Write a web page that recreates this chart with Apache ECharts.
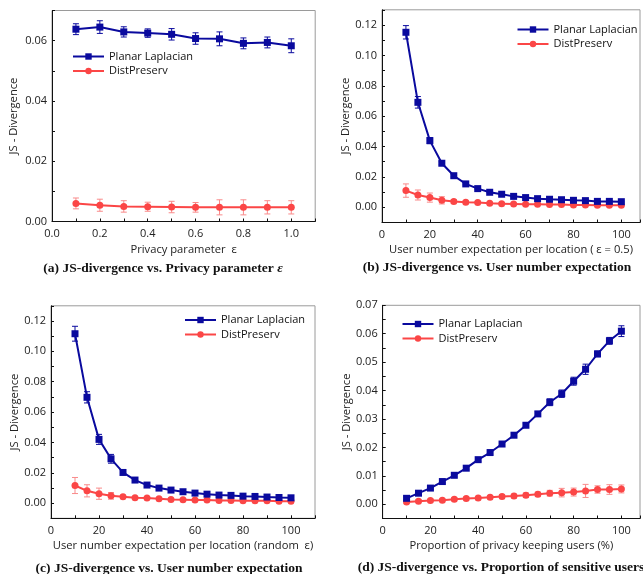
<!DOCTYPE html>
<html>
<head>
<meta charset="utf-8">
<script src="https://cdn.jsdelivr.net/npm/echarts@6/dist/echarts.min.js"></script>
<style>html,body{margin:0;padding:0;background:#fff}#c{width:643px;height:574px}</style>
</head>
<body>
<div id="c"></div>
<script>
// ---- data ----
const A_EPS = [0.1, 0.2, 0.3, 0.4, 0.5, 0.6, 0.7, 0.8, 0.9, 1.0];
const A_PL = [0.0638, 0.0645, 0.0629, 0.0625, 0.0621, 0.0607, 0.0606, 0.0591, 0.0594, 0.0583];
const A_PL_ERR = [0.0018, 0.0021, 0.0017, 0.0014, 0.0019, 0.0019, 0.0023, 0.0018, 0.0018, 0.0023];
const A_DP = [0.0060, 0.0054, 0.0050, 0.0049, 0.0048, 0.0047, 0.0047, 0.0047, 0.0047, 0.0047];
const A_DP_ERR = [0.0018, 0.0020, 0.0019, 0.0015, 0.0019, 0.0016, 0.0025, 0.0025, 0.0022, 0.0022];

const USERS = [10, 15, 20, 25, 30, 35, 40, 45, 50, 55, 60, 65, 70, 75, 80, 85, 90, 95, 100];
const B_PL = [0.1152, 0.0691, 0.0439, 0.0290, 0.0208, 0.0154, 0.0123, 0.0099, 0.0086, 0.0072, 0.0064, 0.0057, 0.0053, 0.0050, 0.0046, 0.0044, 0.0039, 0.0039, 0.0037];
const B_PL_ERR = [0.0044, 0.0038, 0.0020, 0.0010, 0.0008, 0.0006, 0.0005, 0.0004, 0.0004, 0.0004, 0.0004, 0.0004, 0.0004, 0.0004, 0.0004, 0.0004, 0.0004, 0.0004, 0.0004];
const B_DP = [0.0110, 0.0081, 0.0064, 0.0046, 0.0039, 0.0033, 0.0031, 0.0026, 0.0024, 0.0022, 0.0020, 0.0020, 0.0018, 0.0018, 0.0015, 0.0015, 0.0013, 0.0013, 0.0013];
const B_DP_ERR = [0.0044, 0.0033, 0.0030, 0.0024, 0.0012, 0.0010, 0.0008, 0.0006, 0.0005, 0.0005, 0.0005, 0.0005, 0.0005, 0.0005, 0.0005, 0.0005, 0.0005, 0.0005, 0.0005];

const C_PL = [0.1116, 0.0697, 0.0420, 0.0292, 0.0202, 0.0152, 0.0119, 0.0099, 0.0086, 0.0075, 0.0066, 0.0059, 0.0053, 0.0051, 0.0046, 0.0044, 0.0040, 0.0037, 0.0035];
const C_PL_ERR = [0.0049, 0.0037, 0.0033, 0.0029, 0.0010, 0.0008, 0.0006, 0.0005, 0.0005, 0.0005, 0.0005, 0.0005, 0.0005, 0.0005, 0.0005, 0.0005, 0.0005, 0.0005, 0.0005];
const C_DP = [0.0116, 0.0081, 0.0062, 0.0048, 0.0042, 0.0035, 0.0033, 0.0029, 0.0024, 0.0022, 0.0020, 0.0020, 0.0018, 0.0018, 0.0015, 0.0015, 0.0015, 0.0013, 0.0013];
const C_DP_ERR = [0.0053, 0.0040, 0.0037, 0.0022, 0.0010, 0.0008, 0.0006, 0.0006, 0.0006, 0.0006, 0.0006, 0.0006, 0.0006, 0.0006, 0.0006, 0.0006, 0.0006, 0.0006, 0.0006];

const PROPORTION = [10, 15, 20, 25, 30, 35, 40, 45, 50, 55, 60, 65, 70, 75, 80, 85, 90, 95, 100];
const D_PL = [0.0021, 0.0039, 0.0057, 0.0080, 0.0102, 0.0127, 0.0157, 0.0182, 0.0212, 0.0243, 0.0278, 0.0318, 0.0359, 0.0389, 0.0433, 0.0475, 0.0529, 0.0575, 0.0609];
const D_PL_ERR = [0.0005, 0.0005, 0.0005, 0.0005, 0.0006, 0.0006, 0.0006, 0.0006, 0.0007, 0.0007, 0.0007, 0.0008, 0.0012, 0.0013, 0.0014, 0.0018, 0.0010, 0.0012, 0.0019];
const D_DP = [0.0008, 0.0011, 0.0013, 0.0014, 0.0018, 0.0020, 0.0022, 0.0025, 0.0027, 0.0029, 0.0032, 0.0035, 0.0039, 0.0041, 0.0043, 0.0047, 0.0052, 0.0052, 0.0054];
const D_DP_ERR = [0.0005, 0.0005, 0.0005, 0.0005, 0.0006, 0.0006, 0.0006, 0.0006, 0.0007, 0.0007, 0.0008, 0.0008, 0.0010, 0.0015, 0.0014, 0.0023, 0.0013, 0.0017, 0.0014];

const SERIES_NAMES = ['Planar Laplacian', 'DistPreserv'];
const Y_NAME = 'JS - Divergence';
const X_NAMES = ['Privacy parameter  ε', 'User number expectation per location ( ε = 0.5)', 'User number expectation per location (random  ε)', 'Proportion of privacy keeping users (%)'];
const CAPTIONS = [
  ['(a) JS-divergence vs. Privacy parameter ', 'ε'],
  ['(b) JS-divergence vs. User number expectation', ''],
  ['(c) JS-divergence vs. User number expectation', ''],
  ['(d) JS-divergence vs. Proportion of sensitive users', '']
];

// ---- styles ----
const BLUE = '#0a0a9e';
const RED = '#fb4646';
const RED_ERR = '#f98a8a';
const FONT = 'Open Sans';

const panels = [
  { x: A_EPS, pl: A_PL, plE: A_PL_ERR, dp: A_DP, dpE: A_DP_ERR,
    grid: { left: 52, top: 10.5, width: 263.2, height: 211 },
    xa: { min: 0, max: 1.1, interval: 0.1, step: 0.2, dec: 1 },
    ya: { min: 0, max: 0.07, interval: 0.01, step: 0.02, dec: 2 },
    legend: { left: 72, top: 51 }, cap: { x: 163, y: 269 }, nameGapX: 23, nameGapY: 33 },
  { x: USERS, pl: B_PL, plE: B_PL_ERR, dp: B_DP, dpE: B_DP_ERR,
    grid: { left: 382, top: 9.8, width: 260, height: 212.7 },
    xa: { min: 0, max: 107.8, interval: 10, step: 20, dec: 0 },
    ya: { min: -0.01, max: 0.13, interval: 0.01, step: 0.02, dec: 2 },
    legend: { left: 516.5, top: 24 }, cap: { x: 497, y: 268 }, nameGapX: 22, nameGapY: 30 },
  { x: USERS, pl: C_PL, plE: C_PL_ERR, dp: C_DP, dpE: C_DP_ERR,
    grid: { left: 51, top: 305.8, width: 264, height: 212.5 },
    xa: { min: 0, max: 110, interval: 10, step: 20, dec: 0 },
    ya: { min: -0.01, max: 0.13, interval: 0.01, step: 0.02, dec: 2 },
    legend: { left: 184, top: 314.5 }, cap: { x: 169, y: 569 }, nameGapX: 22, nameGapY: 31 },
  { x: PROPORTION, pl: D_PL, plE: D_PL_ERR, dp: D_DP, dpE: D_DP_ERR,
    grid: { left: 382.7, top: 305.3, width: 259.3, height: 213.2 },
    xa: { min: 0, max: 107.8, interval: 10, step: 20, dec: 0 },
    ya: { min: -0.005, max: 0.07, interval: 0.005, step: 0.01, dec: 2 },
    legend: { left: 401.5, top: 318.5 }, cap: { x: 501, y: 568 }, nameGapX: 22, nameGapY: 30 }
];

function onStep(v, step) {
  const r = v / step;
  return Math.abs(r - Math.round(r)) < 1e-6;
}

const option = { animation: false, backgroundColor: '#fff', grid: [], xAxis: [], yAxis: [], series: [], legend: [], graphic: [] };

function errRender(color) {
  return function (params, api) {
    const x = api.value(0), lo = api.value(1), hi = api.value(2);
    const p1 = api.coord([x, lo]), p2 = api.coord([x, hi]);
    const w = 3;
    const st = { stroke: color, lineWidth: 1 };
    return { type: 'group', children: [
      { type: 'line', shape: { x1: p1[0], y1: p1[1], x2: p2[0], y2: p2[1] }, style: st },
      { type: 'line', shape: { x1: p1[0] - w, y1: p1[1], x2: p1[0] + w, y2: p1[1] }, style: st },
      { type: 'line', shape: { x1: p2[0] - w, y1: p2[1], x2: p2[0] + w, y2: p2[1] }, style: st }
    ] };
  };
}

panels.forEach((p, i) => {
  option.grid.push(Object.assign({ show: true, borderColor: '#9a9a9a', borderWidth: 1, containLabel: false }, p.grid));
  const axisCommon = {
    axisLine: { show: true, onZero: false, lineStyle: { color: '#111', width: 1 } },
    axisTick: { show: true, inside: true, length: 3, lineStyle: { color: '#111' } },
    splitLine: { show: false },
    nameTextStyle: { color: '#222', fontSize: 11.2, fontFamily: FONT },
    nameLocation: 'middle'
  };
  option.xAxis.push(Object.assign({}, axisCommon, {
    type: 'value', gridIndex: i, min: p.xa.min, max: p.xa.max, interval: p.xa.interval,
    name: X_NAMES[i], nameGap: p.nameGapX,
    axisLabel: { color: '#222', fontSize: 11, fontFamily: FONT, margin: 7,
      formatter: v => onStep(v, p.xa.step) ? v.toFixed(p.xa.dec) : '' }
  }));
  option.yAxis.push(Object.assign({}, axisCommon, {
    type: 'value', gridIndex: i, min: p.ya.min, max: p.ya.max, interval: p.ya.interval,
    name: Y_NAME, nameGap: p.nameGapY,
    axisLabel: { color: '#222', fontSize: 11, fontFamily: FONT, margin: 5,
      formatter: v => (v >= -1e-9 && onStep(v, p.ya.step)) ? Math.abs(v).toFixed(p.ya.dec) : '' }
  }));

  const mk = (xs, ys) => xs.map((x, k) => [x, ys[k]]);
  const mkErr = (xs, ys, es) => xs.map((x, k) => [x, ys[k] - es[k], ys[k] + es[k]]);

  option.series.push({ type: 'custom', xAxisIndex: i, yAxisIndex: i, renderItem: errRender(RED_ERR),
    data: mkErr(p.x, p.dp, p.dpE), encode: { x: 0, y: [1, 2] }, z: 1, silent: true });
  option.series.push({ type: 'custom', xAxisIndex: i, yAxisIndex: i, renderItem: errRender(BLUE),
    data: mkErr(p.x, p.pl, p.plE), encode: { x: 0, y: [1, 2] }, z: 1, silent: true });
  option.series.push({ name: SERIES_NAMES[1], type: 'line', xAxisIndex: i, yAxisIndex: i,
    data: mk(p.x, p.dp), symbol: 'circle', symbolSize: 7, showAllSymbol: true,
    lineStyle: { color: RED, width: 2 }, itemStyle: { color: RED }, z: 2 });
  option.series.push({ name: SERIES_NAMES[0], type: 'line', xAxisIndex: i, yAxisIndex: i,
    data: mk(p.x, p.pl), symbol: 'rect', symbolSize: 7, showAllSymbol: true,
    lineStyle: { color: BLUE, width: 2 }, itemStyle: { color: BLUE }, z: 3 });

  option.legend.push({ data: SERIES_NAMES, orient: 'vertical', left: p.legend.left, top: p.legend.top,
    itemWidth: 31, itemHeight: 8, itemGap: 3.5, padding: 0,
    textStyle: { color: '#111', fontSize: 11, fontFamily: FONT } });

  option.graphic.push({ type: 'text', x: p.cap.x, y: p.cap.y,
    style: { text: '{b|' + CAPTIONS[i][0] + '}' + (CAPTIONS[i][1] ? '{i|' + CAPTIONS[i][1] + '}' : ''),
      align: 'center', verticalAlign: 'middle',
      rich: {
        b: { fontFamily: 'Liberation Serif', fontWeight: 'bold', fontSize: 13.5, fill: '#111', color: '#111' },
        i: { fontFamily: 'Liberation Serif', fontStyle: 'italic', fontWeight: 'bold', fontSize: 13.5, fill: '#111', color: '#111' }
      } } });
});

const chart = echarts.init(document.getElementById('c'), null, { renderer: 'canvas' });
chart.setOption(option);
</script>
</body>
</html>
